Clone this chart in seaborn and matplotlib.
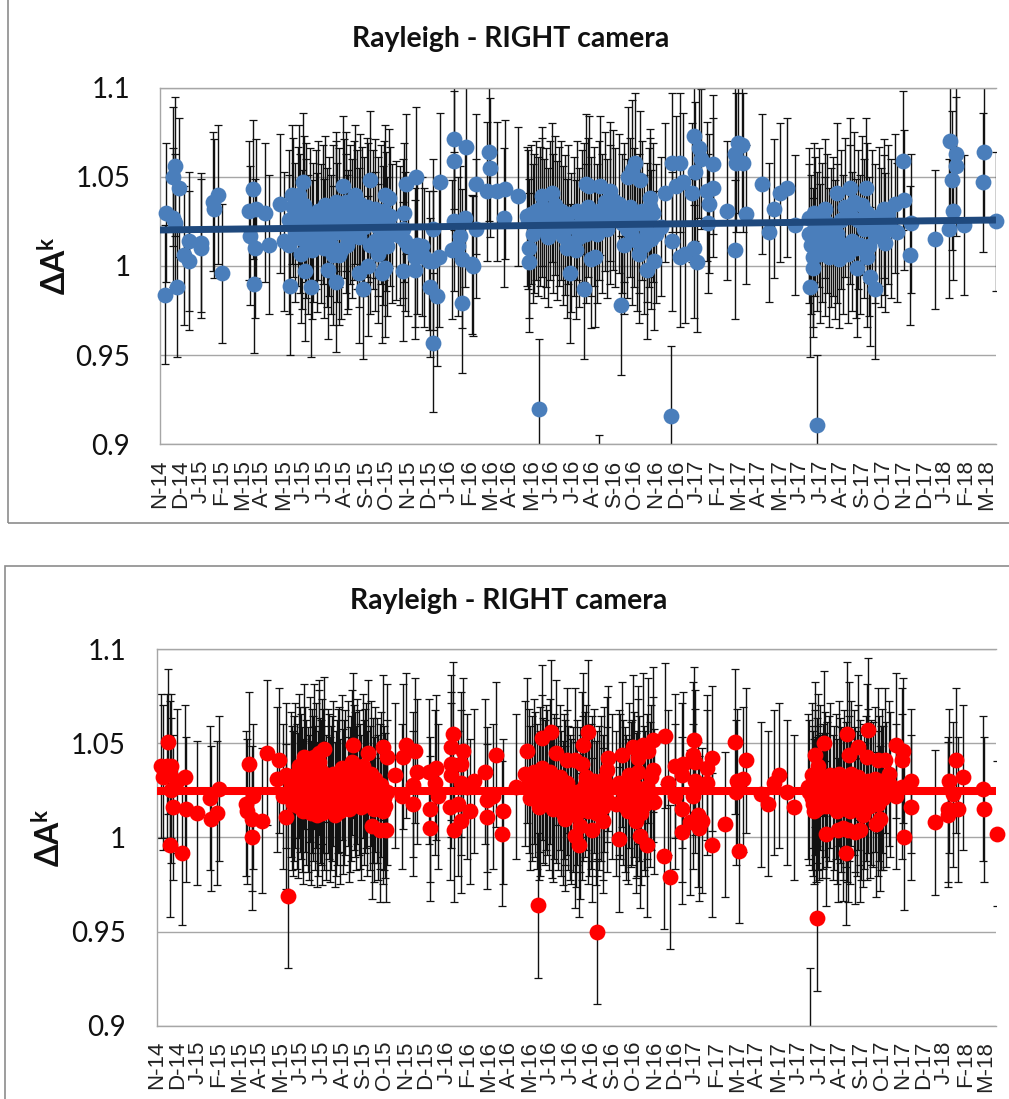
"""Rayleigh calibration coefficients for the right camera, two panels."""
import numpy as np
import pandas as pd
import seaborn as sns
from matplotlib import pyplot as plt
from matplotlib.patches import Rectangle

tick_labels = [
    "N-14", "D-14", "J-15", "F-15", "M-15", "A-15", "M-15", "J-15", "J-15", "A-15", "S-15",
    "O-15", "N-15", "D-15", "J-16", "F-16", "M-16", "A-16", "M-16", "J-16", "J-16", "A-16",
    "S-16", "O-16", "N-16", "D-16", "J-17", "F-17", "M-17", "A-17", "M-17", "J-17", "J-17",
    "A-17", "S-17", "O-17", "N-17", "D-17", "J-18", "F-18", "M-18",
]
y_ticks = [0.9, 0.95, 1, 1.05, 1.1]
y_tick_labels = ["0.9", "0.95", "1", "1.05", "1.1"]

# x is in months since N-14
blue_x = [
    .25, .32, .64, .73, .65, .73, .91, .86, 1.18, 1.39, 1.39, 1.98, 1.98, 2.58, 2.62, 2.82, 3.0,
    4.29, 4.34, 4.45, 4.63, 4.58, 4.53, 5.06, 5.26, 5.77, 5.93, 6.19, 6.19, 6.25, 6.33, 6.65, 6.84,
    6.78, 6.97, 7.26,
    6.4, 6.5, 6.6, 6.7, 6.8, 6.9, 7.0, 7.0, 7.1, 7.2, 7.3, 7.35, 7.5, 7.55, 7.6, 7.7, 7.8, 7.85,
    7.9, 8.0, 8.1, 8.2, 8.3, 8.45, 8.5, 8.6, 8.7, 8.8, 8.9, 9.0, 9.1, 9.2, 9.3, 9.45, 9.55, 9.7,
    9.8, 9.95, 10.05, 10.2, 10.3, 10.45, 10.6, 10.7, 10.85, 11.0, 11.1, 11.3, 11.5, 11.65, 11.75,
    8.05, 8.45, 8.77, 8.45, 8.93, 8.96, 8.56, 8.32, 9.36, 9.52, 9.71, 9.97, 10.08, 9.6, 9.9, 10.3,
    10.45, 10.64, 10.76, 10.8, 10.96, 10.72, 10.88, 11.67, 11.63, 12.2, 11.8, 12.25, 11.9, 12.3,
    12.55, 12.23, 12.63, 12.87, 13.06, 13.1, 13.35, 12.92, 13.27, 13.08, 13.4, 14.1, 14.1, 14.64,
    14.07, 14.63, 14.39, 14.27, 14.0, 14.47, 14.47, 14.95, 14.98, 15.15, 15.12, 15.66, 15.76,
    15.82, 16.14, 16.5, 16.46,
    17.13, 17.65, 17.68, 18.17, 17.88, 17.57, 18.28, 18.76, 18.6, 19.64, 19.48, 19.93, 20.4, 20.56,
    20.28, 20.63, 20.84, 21.07, 21.55, 22.06, 22.22, 22.75, 22.38, 22.59, 23.0, 22.91, 23.31, 23.67,
    23.47, 23.47, 24.18, 24.5, 24.46, 24.5, 24.9, 24.71, 25.03, 24.9, 25.14, 25.57, 25.7, 25.62,
    25.57, 25.81, 25.91, 25.46, 26.18, 26.47, 26.26, 26.21, 26.47, 27.13, 27.53, 27.65, 27.85,
    27.53, 27.58, 27.9, 28.06, 28.81, 29.13, 29.4, 29.69, 30.0, 30.37, 31.09, 31.25, 31.44, 31.84,
    31.28, 31.04, 32.4, 33.0, 33.79, 33.36, 33.96, 34.23, 33.83, 34.71, 34.63, 35.19, 35.59, 35.54,
    35.88, 35.94, 35.27, 37.07, 37.82, 38.11, 38.11, 37.9, 37.93, 37.74, 38.46, 39.42, 39.37, 40.02,
    17.6, 17.75, 17.9, 18.0, 18.1, 18.2, 18.3, 18.4, 18.5, 18.65, 18.8, 18.9, 19.0, 19.1, 19.2,
    19.3, 19.4, 19.55, 19.7, 19.8, 19.95, 20.05, 20.2, 20.3, 20.4, 20.5, 20.65, 20.8, 20.9, 21.0,
    21.15, 21.3, 21.4, 21.55, 21.7, 21.8, 21.95, 22.1, 22.2, 22.35, 22.5, 22.6, 22.7, 22.85, 22.95,
    23.05, 23.15, 23.3, 23.4, 23.5, 23.6, 23.75, 24.0,
    31.05, 31.15, 31.25, 31.35, 31.45, 31.55, 31.6, 31.7, 31.8, 31.9, 32.0, 32.1, 32.2, 32.3, 32.4,
    32.5, 32.6, 32.7, 32.8, 32.9, 33.0, 33.1, 33.2, 33.3, 33.4, 33.5, 33.6, 33.7, 33.85, 33.95,
    34.05, 34.2, 34.4, 34.5, 34.65, 34.85, 35.0,
]
blue_y = [
    .984, 1.030, 1.027, 1.024, 1.050, 1.056, 1.044, .988, 1.006, 1.003, 1.014, 1.013, 1.010, 1.036, 1.032, 1.040, .996,
    1.031, 1.017, 1.043, 1.032, 1.010, .990, 1.030, 1.012, 1.035, 1.014, 1.012, 1.026, .989, 1.040, 1.040, 1.047,
    1.007, .997, .988,
    1.033, 1.019, 1.028, 1.024, 1.015, 1.034, 1.030, 1.021, 1.012, 1.027, 1.009, 1.019, 1.026, 1.013, 1.031, 1.018, 1.029, 1.010,
    1.034, 1.016, 1.022, 1.012, 1.029, 1.031, 1.019, 1.027, 1.009, 1.032, 1.024, 1.015, 1.029, 1.021, 1.031, 1.026, 1.016, 1.028,
    1.022, 1.030, 1.012, 1.026, 1.032, 1.022, 1.029, 1.017, 1.025, 1.028, 1.018, 1.020, 1.017, 1.021, 1.014,
    .998, .991, 1.045, 1.036, 1.036, 1.012, 1.006, 1.006, 1.040, .996, .987, 1.000, 1.048, 1.035, 1.033, 1.014,
    1.007, .996, .999, 1.040, 1.038, 1.031, 1.011, 1.030, .997, .998, 1.046, 1.050, 1.011, 1.012,
    1.011, 1.005, 1.005, 1.003, 1.021, 1.003, 1.005, .988, .983, .957, 1.047, 1.071, 1.059, 1.067,
    1.025, 1.027, 1.017, 1.011, 1.009, 1.004, .979, 1.001, 1.000, 1.046, 1.021, 1.042, 1.064,
    1.055, 1.042, 1.043, 1.027,
    1.039, 1.010, 1.002, .920, 1.018, 1.028, 1.039, 1.041, 1.016, .996, 1.010, 1.009, 1.046, 1.045,
    .987, 1.004, 1.005, 1.045, 1.042, .978, 1.012, 1.058, 1.050, 1.054, 1.048, 1.007, .998, 1.003,
    1.038, 1.033, 1.041, 1.014, .916, 1.058, 1.058, 1.045, 1.047, 1.005, 1.007, 1.010, 1.002, 1.053,
    1.073, 1.066, 1.060, 1.041, 1.042, 1.044, 1.035, 1.024, 1.057, 1.031, 1.009, 1.069, 1.068,
    1.063, 1.058, 1.058, 1.029, 1.046, 1.019, 1.032, 1.041, 1.044, 1.023, .988, .999, .911, 1.032,
    1.030, 1.027, 1.041, 1.044, 1.044, .999, .994, .987, 1.005, 1.013, 1.032, 1.035, 1.037, 1.059,
    1.006, 1.024, 1.019, 1.015, 1.070, 1.063, 1.056, 1.048, 1.031, 1.021, 1.023, 1.064, 1.047, 1.025,
    1.026, 1.029, 1.024, 1.031, 1.022, 1.028, 1.033, 1.021, 1.027, 1.031, 1.024, 1.034, 1.020, 1.028, 1.031,
    1.017, 1.023, 1.029, 1.013, 1.022, 1.031, 1.016, 1.026, 1.030, 1.018, 1.033, 1.022, 1.028, 1.018, 1.031,
    1.024, 1.036, 1.021, 1.029, 1.037, 1.027, 1.035, 1.024, 1.030, 1.021, 1.033, 1.017, 1.027, 1.014, 1.024,
    1.031, 1.012, 1.019, 1.027, 1.015, 1.030, 1.018, 1.022,
    1.018, 1.012, 1.005, 1.022, 1.014, 1.027, 1.007, 1.019, 1.011, 1.024, 1.005, 1.016, 1.022, 1.009, 1.018,
    1.004, 1.026, 1.012, 1.033, 1.007, 1.029, 1.014, 1.036, 1.010, 1.026, 1.012, 1.034, 1.021, 1.030, 1.011,
    1.026, 1.018, 1.028, 1.016, 1.023, 1.029, 1.021,
]
blue_off_x = [21.0]
blue_off_y = [.866]
blue_trend_x = [0, 40]
blue_trend_y = [1.0202, 1.0258]
blue_err = 0.0390

red_x = [
    .2, .48, .69, .56, .3, .64, .96, 1.36, .68, .77, .64, 1.2, 1.39, 1.94, 2.55, 2.58, 2.87, 2.98,
    4.4, 4.26, 4.3, 4.6, 4.56, 4.53, 5.04, 5.28, 5.85, 5.75, 6.17, 6.28, 6.15, 6.04,
    6.4, 6.5, 6.6, 6.7, 6.8, 6.9, 7.0, 7.05, 7.2, 7.3, 7.35, 7.45, 7.6, 7.7, 7.75, 7.85, 7.95, 8.05,
    8.2, 8.3, 8.4, 8.55, 8.65, 8.75, 8.85, 8.95, 9.1, 9.2, 9.3, 9.45, 9.55, 9.7, 9.85, 9.95, 10.05,
    10.2, 10.3, 10.4, 10.55, 10.7, 10.85, 11.0,
    7.02, 7.5, 7.75, 7.98, 7.87, 9.34, 10.09, 10.8, 10.96, 10.25, 10.64, 10.92, 10.8, 11.88, 12.31,
    11.75, 11.36, 11.68, 12.2, 13.02, 13.05, 13.41, 13.25, 13.33, 13.0, 12.4, 12.2, 14.13, 14.05,
    14.6, 14.05, 14.5, 14.05, 14.5, 13.97, 14.37, 14.52, 14.18, 14.93, 15.1, 14.77, 15.65, 15.75,
    16.04, 15.76, 16.16, 16.5, 16.46,
    17.12, 17.66, 17.55, 18.19, 18.34, 18.77, 19.01, 18.26, 19.46, 19.93, 20.12, 20.33, 20.57, 20.25,
    19.93, 19.53, 20.73, 20.17, 21.28, 20.96, 21.52, 21.44, 22.03, 22.15, 22.82, 23.03, 23.34, 23.63,
    23.19, 22.71, 23.42, 22.95, 22.95, 23.66, 23.53, 23.71, 24.22, 24.17, 24.46, 24.34, 24.69, 25.09,
    25.04, 25.04, 24.69, 25.04, 25.41, 25.8, 25.96, 25.84, 25.6, 25.57, 25.65, 25.65, 25.53, 26.44,
    26.2, 26.23, 26.47, 27.1, 27.55, 27.66, 27.95, 27.58, 27.74, 28.07, 28.77, 29.14, 29.41, 29.66,
    30.01, 30.38, 31.04, 31.2, 31.36, 31.52, 31.44, 31.41, 31.79, 31.88, 32.87, 32.84, 32.71, 32.47,
    32.95, 33.27, 33.5, 33.87, 33.42, 33.0, 33.82, 34.38, 34.69, 33.82, 34.25, 34.45, 34.61, 34.88,
    35.2, 35.57, 35.52, 35.2, 35.49, 35.92, 35.92, 35.61, 37.07, 37.76, 37.71, 37.71, 38.07, 38.18,
    38.42, 37.95, 39.38, 39.41, 40.01,
    17.75, 17.9, 18.0, 18.1, 18.25, 18.35, 18.5, 18.6, 18.75, 18.85, 18.95, 19.1, 19.2, 19.35, 19.45,
    19.55, 19.7, 19.85, 20.0, 20.15, 20.3, 20.45, 20.55, 20.7, 20.85, 21.0, 21.15, 21.3, 21.45, 21.7,
    21.9, 22.05, 22.2, 22.35, 22.5, 22.6, 22.75, 22.9, 23.0, 23.2, 23.35, 23.5,
    31.1, 31.25, 31.35, 31.5, 31.6, 31.7, 31.85, 31.95, 32.1, 32.2, 32.35, 32.5, 32.6, 32.75, 32.9,
    33.0, 33.1, 33.25, 33.4, 33.55, 33.7, 33.9, 34.05, 34.2, 34.4, 34.55, 34.75, 34.95,
    6.45, 6.55, 6.75, 6.85, 6.95, 7.1, 7.25, 7.4, 7.55, 7.65, 7.8, 7.9, 8.0, 8.15, 8.25, 8.35, 8.5,
    8.6, 8.7, 8.9, 9.0, 9.15, 9.25, 9.4, 9.5, 9.65, 9.75, 9.9, 10.0, 10.15, 10.35, 10.5, 10.65, 10.9,
    17.8, 18.05, 18.2, 18.4, 18.55, 18.7, 18.9, 19.05, 19.25, 19.4, 19.6, 19.75, 20.05, 20.25, 20.4,
    20.6, 20.75, 20.95, 21.1, 21.25, 22.1, 22.3, 22.45, 22.65, 22.85, 23.1, 23.25,
    31.2, 31.3, 31.45, 31.55, 31.75, 31.9, 32.05, 32.25, 32.4, 32.55, 32.7, 32.85, 33.05, 33.2, 33.35,
    33.5, 33.65, 33.8, 34.0, 34.15, 34.35, 34.5,
]
red_y = [
    1.038, 1.038, 1.038, 1.051, 1.032, 1.034, 1.030, 1.032, 1.025, 1.016, .996, .992, 1.015, 1.013, 1.021, 1.010, 1.013, 1.026,
    1.039, 1.018, 1.014, 1.022, 1.010, 1.000, 1.009, 1.045, 1.041, 1.031, 1.011, .969, 1.033, 1.022,
    1.028, 1.018, 1.033, 1.022, 1.038, 1.027, 1.014, 1.031, 1.020, 1.036, 1.013, 1.026, 1.033, 1.018, 1.040, 1.024, 1.030, 1.016,
    1.027, 1.021, 1.034, 1.018, 1.030, 1.014, 1.037, 1.024, 1.034, 1.020, 1.040, 1.028, 1.035, 1.022, 1.038, 1.030, 1.018,
    1.034, 1.025, 1.031, 1.016, 1.028, 1.021, 1.024,
    1.043, 1.043, 1.045, 1.047, 1.013, 1.049, 1.045, 1.048, 1.043, 1.006, 1.004, 1.004, 1.014, 1.049, 1.046,
    1.043, 1.033, 1.022, 1.018, 1.015, 1.005, 1.022, 1.029, 1.037, 1.035, 1.035, 1.028, 1.055, 1.048,
    1.046, 1.039, 1.039, 1.033, 1.029, 1.016, 1.018, 1.009, 1.004, 1.014, 1.030, 1.027, 1.035, 1.020,
    1.022, 1.011, 1.044, 1.014, 1.002,
    1.027, 1.046, 1.034, .964, 1.053, 1.056, 1.045, 1.018, 1.010, 1.001, .996, 1.049, 1.056, 1.039,
    1.041, 1.041, 1.004, 1.006, 1.009, .950, 1.042, 1.036, .999, 1.044, 1.009, 1.001, .996, 1.052,
    1.049, 1.048, 1.046, 1.042, 1.035, 1.036, 1.032, 1.019, 1.054, .990, .979, 1.029, 1.038, 1.039,
    1.033, 1.015, 1.022, 1.003, 1.008, 1.012, 1.009, 1.005, 1.052, 1.044, 1.040, 1.030, 1.022, 1.042,
    1.037, 1.029, .996, 1.007, 1.051, 1.030, 1.031, 1.024, .993, 1.041, 1.023, 1.018, 1.029, 1.033,
    1.024, 1.016, 1.027, 1.033, 1.044, 1.038, .957, 1.015, 1.050, 1.002, 1.055, .992, 1.005, 1.004,
    1.004, 1.003, 1.004, 1.057, 1.048, 1.044, 1.043, 1.041, 1.041, 1.016, 1.007, 1.010, 1.021, 1.034,
    1.049, 1.046, 1.041, 1.022, 1.027, 1.030, 1.016, 1.000, 1.008, 1.030, 1.015, 1.012, 1.041, 1.015,
    1.032, 1.023, 1.026, 1.015, 1.002,
    1.030, 1.026, 1.035, 1.022, 1.031, 1.037, 1.024, 1.029, 1.035, 1.017, 1.027, 1.021, 1.032, 1.013, 1.024,
    1.029, 1.016, 1.020, 1.012, 1.020, 1.026, 1.032, 1.014, 1.022, 1.030, 1.018, 1.026, 1.031, 1.020, 1.027,
    1.018, 1.029, 1.024, 1.016, 1.033, 1.023, 1.028, 1.018, 1.026, 1.021, 1.027, 1.023,
    1.024, 1.018, 1.029, 1.021, 1.032, 1.017, 1.028, 1.023, 1.033, 1.016, 1.027, 1.034, 1.020, 1.029, 1.015,
    1.026, 1.034, 1.020, 1.032, 1.016, 1.022, 1.030, 1.024, 1.031, 1.026, 1.030, 1.023, 1.028,
    1.021, 1.026, 1.017, 1.031, 1.020, 1.024, 1.016, 1.030, 1.021, 1.012, 1.025, 1.035, 1.021, 1.030, 1.015, 1.026, 1.012,
    1.024, 1.031, 1.019, 1.029, 1.015, 1.026, 1.032, 1.021, 1.029, 1.016, 1.024, 1.033, 1.021, 1.015, 1.025, 1.022, 1.017,
    1.021, 1.028, 1.016, 1.025, 1.032, 1.021, 1.015, 1.025, 1.018, 1.027, 1.021, 1.014, 1.024, 1.016, 1.028,
    1.018, 1.026, 1.013, 1.021, 1.016, 1.027, 1.020, 1.014, 1.024, 1.017, 1.013, 1.018,
    1.021, 1.014, 1.025, 1.016, 1.022, 1.017, 1.026, 1.021, 1.014, 1.025, 1.016, 1.023, 1.014, 1.029, 1.018,
    1.024, 1.012, 1.026, 1.017, 1.023, 1.018, 1.021,
]
red_off_x = [31.12]
red_off_y = [.892]
red_trend_x = [0, 40]
red_trend_y = [1.0245, 1.0245]
red_err = 0.0385


def draw_panel(ax, x, y, off_x, off_y, err, trend_x, trend_y, color, trend_color, trend_lw, tick_step, pad):
    ax.errorbar(x + off_x, y + off_y, yerr=err, fmt="none", ecolor="#111111",
                elinewidth=1.0, capsize=2.7, capthick=0.9, zorder=2)
    sns.scatterplot(data=pd.DataFrame({"x": x, "y": y}), x="x", y="y", color=color, s=130,
                    linewidth=0, clip_on=False, zorder=3, ax=ax)
    sns.lineplot(data=pd.DataFrame({"x": trend_x, "y": trend_y}), x="x", y="y", color=trend_color,
                 linewidth=trend_lw, solid_capstyle="butt", errorbar=None, zorder=4, ax=ax)
    ax.set_xlim(0, 40)
    ax.set_ylim(0.9, 1.1)
    ax.set_yticks(y_ticks)
    ax.set_yticklabels(y_tick_labels, fontsize=20, color="#111111")
    ax.set_xticks(np.arange(len(tick_labels)) * tick_step)
    ax.set_xticklabels(tick_labels, rotation=90, fontsize=16, family="Liberation Sans", color="#222222")
    ax.tick_params(axis="both", length=0)
    ax.tick_params(axis="y", pad=pad)
    ax.tick_params(axis="x", pad=11)
    ax.grid(axis="y", color="#a6a6a6", linewidth=1)
    ax.set_axisbelow(True)
    ax.set_xlabel("")
    ax.set_ylabel(r"$\Delta$A$^{k}$", fontsize=23, fontweight="bold", color="#111111", labelpad=0)
    for side in ["top", "bottom", "left"]:
        ax.spines[side].set_color("#a6a6a6")
        ax.spines[side].set_linewidth(1)
    ax.spines["right"].set_visible(False)


sns.set_theme(style="white")
plt.rcParams["font.family"] = ["Lato", "DejaVu Sans"]
plt.rcParams["mathtext.default"] = "regular"

W, H = 1009, 1099
fig = plt.figure(figsize=(W / 100, H / 100), dpi=100, facecolor="white")

# panel frames, in pixels from the top left
for left, top, right, bottom in [(8, -5, 1015, 523), (5, 566, 1015, 1110)]:
    fig.add_artist(Rectangle((left / W, 1 - bottom / H), (right - left) / W, (bottom - top) / H,
                             transform=fig.transFigure, fill=False, edgecolor="#8c8c8c", linewidth=1.2))

ax_top = fig.add_axes([159.5 / W, 1 - 444.3 / H, 836.5 / W, 356.6 / H])
ax_bottom = fig.add_axes([156.5 / W, 1 - 1025.7 / H, 839.8 / W, 376.4 / H])

draw_panel(ax_top, blue_x, blue_y, blue_off_x, blue_off_y, blue_err, blue_trend_x, blue_trend_y,
           "#4a7ebb", "#1f497d", 5, 0.9885, 21)
draw_panel(ax_bottom, red_x, red_y, red_off_x, red_off_y, red_err, red_trend_x, red_trend_y,
           "#ff0000", "#ff0000", 5.8, 0.9877, 22)
ax_top.yaxis.set_label_coords((72 - 159.5) / 836.5, 0.5)
ax_bottom.yaxis.set_label_coords((66 - 156.5) / 839.8, 0.5)

fig.text(511 / W, 1 - 39 / H, "Rayleigh - RIGHT camera", ha="center", va="center", fontsize=20.4,
         fontweight="bold", color="#111111")
fig.text(509 / W, 1 - 601 / H, "Rayleigh - RIGHT camera", ha="center", va="center", fontsize=20.4,
         fontweight="bold", color="#111111")

fig.savefig("out.png", dpi=100)
